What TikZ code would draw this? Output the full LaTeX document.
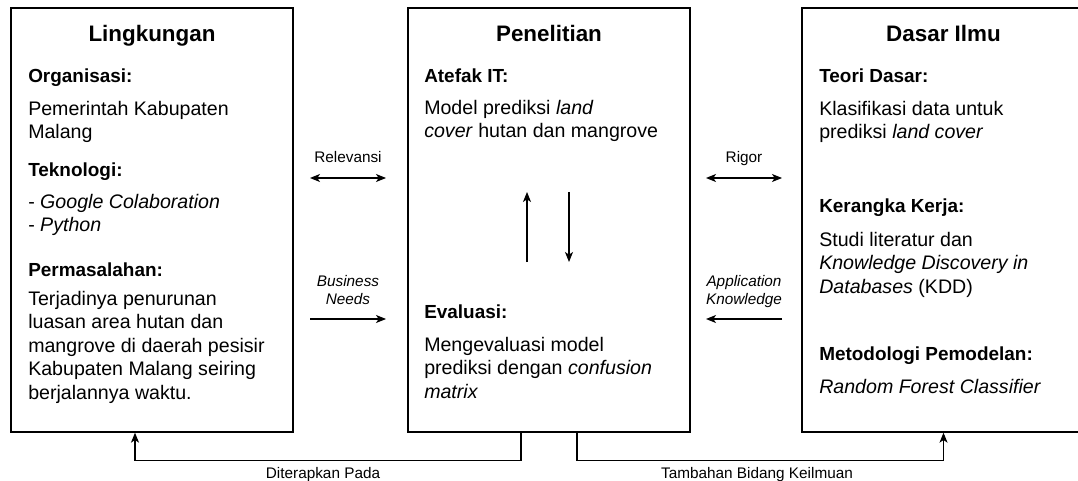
\documentclass[tikz,border=0pt]{standalone}
\usepackage{fontspec}
\setmainfont{Liberation Sans}
\usetikzlibrary{arrows.meta}

\begin{document}
\begin{tikzpicture}[x=0.75pt,y=-0.75pt,
  >={Stealth[length=7.5pt,width=6pt,inset=2pt]},
  box/.style={draw,line width=1pt,minimum width=211.5pt,minimum height=318pt},
  judul/.style={font=\fontsize{16.8}{20}\selectfont\bfseries,anchor=base,inner sep=0pt},
  sub/.style={font=\fontsize{14.2}{17.6}\selectfont\bfseries,anchor=base west,inner sep=0pt},
  isi/.style={font=\fontsize{14.7}{17.6}\selectfont,anchor=base west,align=left,inner sep=0pt},
  ket/.style={font=\fontsize{11.5}{13.5}\selectfont,anchor=base,align=center,inner sep=0pt},
  panah/.style={line width=0.8pt}]

\useasboundingbox (0,0) rectangle (1078,481);
\clip (0,0) rectangle (1078,481);

% tiga kotak utama
\node[box] (lingkungan) at (152,220) {};
\node[box] (penelitian) at (549,220) {};
\node[box,minimum width=212.25pt] (dasar) at (943.5,220) {};

\node[judul] (tLingkungan) at (152,42) {Lingkungan};
\node[judul] (tPenelitian) at (549,42) {Penelitian};
\node[judul] (tDasar) at (943.5,42) {Dasar Ilmu};

% lingkungan (isi: posisi baris terakhir)
\node[sub] (org) at (28,83) {Organisasi:};
\node[isi] (orgIsi) at (28,138.5) {Pemerintah Kabupaten\\Malang};
\node[sub] (tek) at (28,177) {Teknologi:};
\node[isi] (tekIsi) at (28,232) {- \textit{Google Colaboration}\\- \textit{Python}};
\node[sub] (masalah) at (28,276) {Permasalahan:};
\node[isi] (masalahIsi) at (28,399) {Terjadinya penurunan\\luasan area hutan dan\\mangrove di daerah pesisir\\Kabupaten Malang seiring\\berjalannya waktu.};

% penelitian
\node[sub] (artefak) at (424,83) {Atefak IT:};
\node[isi] (artefakIsi) at (424,138) {Model prediksi \textit{land}\\\textit{cover} hutan dan mangrove};
\node[sub] (evaluasi) at (424,318) {Evaluasi:};
\node[isi] (evaluasiIsi) at (424,398) {Mengevaluasi model\\prediksi dengan \textit{confusion}\\\textit{matrix}};

% dasar ilmu
\node[sub] (teori) at (819,83) {Teori Dasar:};
\node[isi] (teoriIsi) at (819,139) {Klasifikasi data untuk\\prediksi \textit{land cover}};
\node[sub] (kerangka) at (819,213) {Kerangka Kerja:};
\node[isi] (kerangkaIsi) at (819,293) {Studi literatur dan\\\textit{Knowledge Discovery in}\\\textit{Databases} (KDD)};
\node[sub] (metode) at (819,360) {Metodologi Pemodelan:};
\node[isi] (metodeIsi) at (819,393) {\textit{Random Forest Classifier}};

% panah antar kotak
\coordinate (relA) at (310,178);
\coordinate (relB) at (386,178);
\coordinate (bisA) at (310,319);
\coordinate (bisB) at (386,319);
\coordinate (rigA) at (706,178);
\coordinate (rigB) at (782,178);
\coordinate (aplA) at (706,319);
\coordinate (aplB) at (782,319);
\draw[panah,<->] (relA) -- (relB);
\draw[panah,->] (bisA) -- (bisB);
\draw[panah,<->] (rigA) -- (rigB);
\draw[panah,->] (aplB) -- (aplA);
\node[ket] (relevansi) at (348,163) {Relevansi};
\node[ket] (bisnis) at (348,304) {\textit{Business}\\\textit{Needs}};
\node[ket] (rigor) at (744,163) {Rigor};
\node[ket] (aplikasi) at (744,304) {\textit{Application}\\\textit{Knowledge}};

% siklus evaluasi
\coordinate (naikA) at (527,262);
\coordinate (naikB) at (527,192);
\coordinate (turunA) at (569,192);
\coordinate (turunB) at (569,262);
\draw[panah,->] (naikA) -- (naikB);
\draw[panah,->] (turunA) -- (turunB);

% umpan balik bawah
\draw[panah,->] ([xshift=-21pt]penelitian.south) -- ++(0,28) -| ([xshift=-12.75pt]lingkungan.south);
\draw[panah,->] ([xshift=21pt]penelitian.south) -- ++(0,28) -| (dasar.south);
\node[ket] (terapkan) at (323,478) {Diterapkan Pada};
\node[ket] (tambahan) at (757,478) {Tambahan Bidang Keilmuan};
\end{tikzpicture}
\end{document}
